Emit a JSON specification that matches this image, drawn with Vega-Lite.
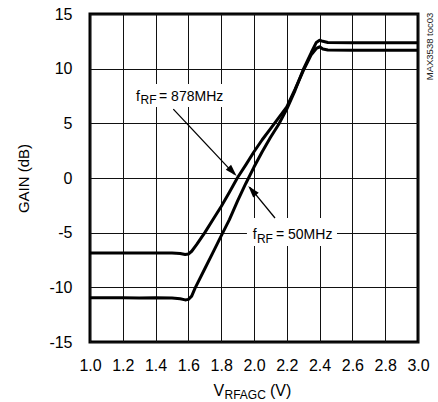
{
  "$schema": "https://vega.github.io/schema/vega-lite/v6.json",
  "width": 328,
  "height": 328,
  "autosize": {"type": "none"},
  "padding": {"left": 90, "top": 14, "right": 20, "bottom": 60},
  "background": "white",
  "config": {
    "font": "Liberation Sans, Arial, sans-serif",
    "view": {"stroke": "black", "strokeWidth": 3},
    "axis": {
      "grid": true, "gridColor": "#111111", "gridWidth": 1, "gridOpacity": 1,
      "domain": false, "ticks": false, "tickSize": 0,
      "labelFont": "Liberation Sans, Arial, sans-serif",
      "labelFontSize": 16, "labelColor": "black", "labelOverlap": false, "labelFlush": false,
      "titleFont": "Liberation Sans, Arial, sans-serif",
      "titleFontWeight": "normal", "titleColor": "black", "titleFontSize": 15
    }
  },
  "encoding": {
    "x": {
      "field": "x", "type": "quantitative",
      "scale": {"domain": [1, 3], "nice": false, "zero": false},
      "axis": {
        "values": [1, 1.2, 1.4, 1.6, 1.8, 2, 2.2, 2.4, 2.6, 2.8, 3],
        "labelExpr": "format(datum.value, '.1f')",
        "labelPadding": 15, "title": null
      }
    },
    "y": {
      "field": "y", "type": "quantitative",
      "scale": {"domain": [-15, 15], "nice": false, "zero": false},
      "axis": {
        "values": [-15, -10, -5, 0, 5, 10, 15],
        "labelExpr": "'' + datum.value",
        "labelPadding": 18,
        "title": "GAIN (dB)",
        "titleAngle": 270, "titleX": -62, "titleY": 164,
        "titleAlign": "center", "titleBaseline": "alphabetic"
      }
    }
  },
  "layer": [
    {
      "data": {"values": [
        {"x": 1.244, "x2": 1.841, "y": 6.5, "y2": 8.6},
        {"x": 1.957, "x2": 2.506, "y": -6.22, "y2": -3.66}
      ]},
      "mark": {"type": "rect", "fill": "white", "strokeWidth": 0},
      "encoding": {"x2": {"field": "x2"}, "y2": {"field": "y2"}}
    },
    {
      "data": {"values": [
        {"series": "878MHz", "x": 1.0, "y": -6.85},
        {"series": "878MHz", "x": 1.1, "y": -6.85},
        {"series": "878MHz", "x": 1.2, "y": -6.86},
        {"series": "878MHz", "x": 1.3, "y": -6.85},
        {"series": "878MHz", "x": 1.4, "y": -6.86},
        {"series": "878MHz", "x": 1.5, "y": -6.86},
        {"series": "878MHz", "x": 1.55, "y": -6.9},
        {"series": "878MHz", "x": 1.58, "y": -7.0},
        {"series": "878MHz", "x": 1.6, "y": -6.95},
        {"series": "878MHz", "x": 1.62, "y": -6.7},
        {"series": "878MHz", "x": 1.65, "y": -6.1},
        {"series": "878MHz", "x": 1.7, "y": -5.0},
        {"series": "878MHz", "x": 1.75, "y": -3.8},
        {"series": "878MHz", "x": 1.8, "y": -2.6},
        {"series": "878MHz", "x": 1.85, "y": -1.3},
        {"series": "878MHz", "x": 1.9, "y": 0.05},
        {"series": "878MHz", "x": 1.95, "y": 1.2},
        {"series": "878MHz", "x": 2.0, "y": 2.4},
        {"series": "878MHz", "x": 2.05, "y": 3.5},
        {"series": "878MHz", "x": 2.1, "y": 4.5},
        {"series": "878MHz", "x": 2.15, "y": 5.5},
        {"series": "878MHz", "x": 2.2, "y": 6.5},
        {"series": "878MHz", "x": 2.25, "y": 8.1},
        {"series": "878MHz", "x": 2.3, "y": 9.8},
        {"series": "878MHz", "x": 2.35, "y": 11.3},
        {"series": "878MHz", "x": 2.38, "y": 11.85},
        {"series": "878MHz", "x": 2.4, "y": 12.0},
        {"series": "878MHz", "x": 2.42, "y": 11.8},
        {"series": "878MHz", "x": 2.45, "y": 11.7},
        {"series": "878MHz", "x": 2.6, "y": 11.68},
        {"series": "878MHz", "x": 2.8, "y": 11.68},
        {"series": "878MHz", "x": 3.0, "y": 11.68},
        {"series": "50MHz", "x": 1.0, "y": -10.95},
        {"series": "50MHz", "x": 1.1, "y": -10.95},
        {"series": "50MHz", "x": 1.2, "y": -10.96},
        {"series": "50MHz", "x": 1.3, "y": -10.97},
        {"series": "50MHz", "x": 1.4, "y": -10.95},
        {"series": "50MHz", "x": 1.5, "y": -10.97},
        {"series": "50MHz", "x": 1.55, "y": -11.05},
        {"series": "50MHz", "x": 1.58, "y": -11.15},
        {"series": "50MHz", "x": 1.6, "y": -11.1},
        {"series": "50MHz", "x": 1.62, "y": -10.8},
        {"series": "50MHz", "x": 1.64, "y": -10.1},
        {"series": "50MHz", "x": 1.7, "y": -8.3},
        {"series": "50MHz", "x": 1.75, "y": -6.8},
        {"series": "50MHz", "x": 1.8, "y": -5.3},
        {"series": "50MHz", "x": 1.85, "y": -3.8},
        {"series": "50MHz", "x": 1.9, "y": -2.1},
        {"series": "50MHz", "x": 1.95, "y": -0.5},
        {"series": "50MHz", "x": 2.0, "y": 1.0},
        {"series": "50MHz", "x": 2.05, "y": 2.4},
        {"series": "50MHz", "x": 2.1, "y": 3.7},
        {"series": "50MHz", "x": 2.15, "y": 4.9},
        {"series": "50MHz", "x": 2.2, "y": 6.3},
        {"series": "50MHz", "x": 2.25, "y": 8.0},
        {"series": "50MHz", "x": 2.3, "y": 9.9},
        {"series": "50MHz", "x": 2.35, "y": 11.5},
        {"series": "50MHz", "x": 2.38, "y": 12.4},
        {"series": "50MHz", "x": 2.4, "y": 12.6},
        {"series": "50MHz", "x": 2.42, "y": 12.5},
        {"series": "50MHz", "x": 2.45, "y": 12.4},
        {"series": "50MHz", "x": 2.6, "y": 12.38},
        {"series": "50MHz", "x": 2.8, "y": 12.38},
        {"series": "50MHz", "x": 3.0, "y": 12.38}
      ]},
      "mark": {"type": "line", "color": "black", "strokeWidth": 3, "strokeJoin": "round"},
      "encoding": {"detail": {"field": "series"}}
    },
    {
      "data": {"values": [
        {"x": 1.508, "y": 6.3, "x2": 1.88, "y2": 0.35},
        {"x": 2.128, "y": -3.66, "x2": 1.975, "y2": -0.85}
      ]},
      "mark": {"type": "rule", "color": "black", "strokeWidth": 1.3},
      "encoding": {"x2": {"field": "x2"}, "y2": {"field": "y2"}}
    },
    {
      "data": {"values": [{"x": 1.894, "y": 0.18}]},
      "mark": {"type": "point", "shape": "M0,0L0.3,1L-0.3,1Z", "filled": true, "color": "black", "opacity": 1, "size": 576, "angle": 137, "strokeWidth": 0}
    },
    {
      "data": {"values": [{"x": 1.965, "y": -0.73}]},
      "mark": {"type": "point", "shape": "M0,0L0.3,1L-0.3,1Z", "filled": true, "color": "black", "opacity": 1, "size": 576, "angle": 320, "strokeWidth": 0}
    },
    {
      "data": {"values": [
        {"x": 1.2805, "y": 7.07, "t": "f"},
        {"x": 1.421, "y": 7.07, "t": "= 878MHz"},
        {"x": 1.992, "y": -5.61, "t": "f"},
        {"x": 2.134, "y": -5.61, "t": "= 50MHz"}
      ]},
      "mark": {"type": "text", "align": "left", "baseline": "alphabetic", "fontSize": 14, "color": "black"},
      "encoding": {"text": {"field": "t"}}
    },
    {
      "data": {"values": [
        {"x": 1.308, "y": 6.77, "t": "RF"},
        {"x": 2.018, "y": -5.92, "t": "RF"}
      ]},
      "mark": {"type": "text", "align": "left", "baseline": "alphabetic", "fontSize": 12, "color": "black"},
      "encoding": {"text": {"field": "t"}}
    },
    {
      "data": {"values": [
        {"x": 1.753, "y": -19.94, "t": "V"},
        {"x": 2.0976, "y": -19.94, "t": "(V)"}
      ]},
      "mark": {"type": "text", "align": "left", "baseline": "alphabetic", "fontSize": 16, "color": "black"},
      "encoding": {"text": {"field": "t"}}
    },
    {
      "data": {"values": [
        {"x": 1.82, "y": -20.21, "t": "RFAGC"}
      ]},
      "mark": {"type": "text", "align": "left", "baseline": "alphabetic", "fontSize": 12, "color": "black"},
      "encoding": {"text": {"field": "t"}}
    },
    {
      "data": {"values": [
        {"x": 3.0915, "y": 12.03, "t": "MAX3538 toc03"}
      ]},
      "mark": {"type": "text", "align": "center", "baseline": "alphabetic", "fontSize": 9.5, "angle": 270, "color": "#222"},
      "encoding": {"text": {"field": "t"}}
    }
  ]
}
